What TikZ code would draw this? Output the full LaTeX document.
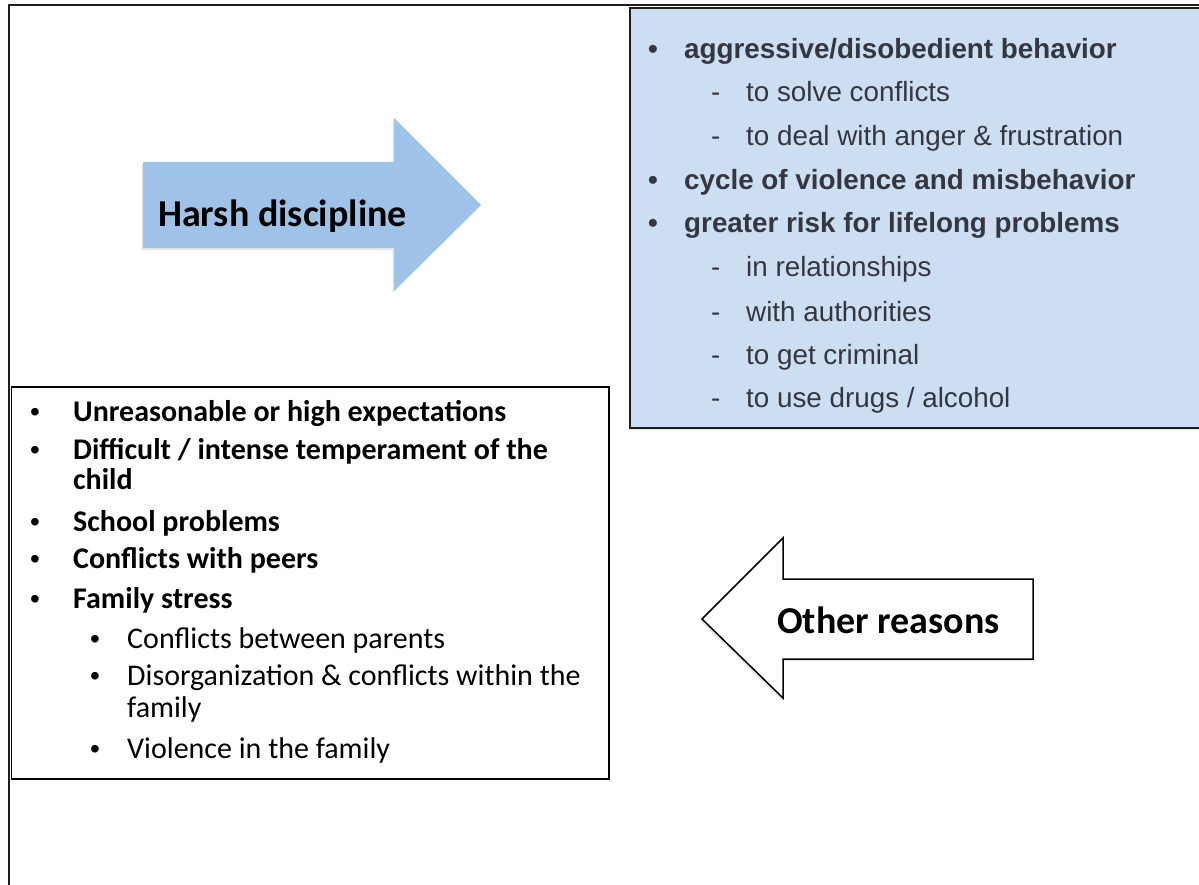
\documentclass[tikz,border=0pt]{standalone}
\usepackage{fontspec}
\setmainfont{Carlito}
\newfontfamily\arialfont{Liberation Sans}
\usepackage{xcolor}
\usetikzlibrary{shadows}
\definecolor{harshblue}{RGB}{158,194,232}
\definecolor{effectblue}{RGB}{205,222,242}
\definecolor{effecttext}{RGB}{52,54,66}
\definecolor{framegray}{RGB}{30,30,30}

\begin{document}
\begin{tikzpicture}[x=1pt,y=-1pt,
  bigtext/.style={anchor=base west,inner sep=0pt,font=\fontsize{38}{44}\selectfont\bfseries},
  causebold/.style={anchor=base west,inner sep=0pt,font=\fontsize{30}{30}\selectfont\bfseries},
  causeplain/.style={anchor=base west,inner sep=0pt,font=\fontsize{30}{30}\selectfont},
  causedot/.style={anchor=base west,inner sep=0pt,font=\arialfont\fontsize{28}{30}\selectfont},
  effectbold/.style={anchor=base west,inner sep=0pt,text=effecttext,font=\arialfont\fontsize{27.8}{32}\selectfont\bfseries},
  effectplain/.style={anchor=base west,inner sep=0pt,text=effecttext,font=\arialfont\fontsize{27.8}{32}\selectfont},
  softshadow/.style={drop shadow={shadow xshift=-1.5pt,shadow yshift=-2pt,opacity=0.2}}]
\useasboundingbox (0,0) rectangle (1199,885);
\clip (0,0) rectangle (1199,885);
\fill[white] (0,0) rectangle (1199,885);

% frame and boxes
\draw[framegray,line width=2pt] (8.5,890) |- (1210,5);
\filldraw[fill=effectblue,draw=framegray,line width=1.5pt,softshadow] (630,8) rectangle (1210,428);
\draw[black,line width=1.5pt] (11.5,387) rectangle (609,779);

% arrows
\fill[harshblue,softshadow] (143,162) -- (394,162) -- (394,118) -- (481,205)
  -- (394,291) -- (394,248) -- (143,248) -- cycle;
\filldraw[fill=white,draw=black,line width=1.5pt,softshadow] (1033,579) -- (783,579) -- (783,538)
  -- (702,619) -- (783,698) -- (783,659) -- (1033,659) -- cycle;
\node[bigtext] (harsh) at (158,227) {Harsh discipline};
\node[bigtext] (other) at (777,633) {Other reasons};

% effects
\foreach \y [count=\i] in {59,190,233}
  \node[effectbold] (ebul\i) at (648,\y) {\textbullet};
\foreach \y [count=\i] in {102,146,277,321,364,407}
  \node[effectplain] (edash\i) at (711,\y) {-};
\node[effectbold] (aggr) at (684,59) {aggressive/disobedient behavior};
\node[effectplain] (solve) at (746,102) {to solve conflicts};
\node[effectplain] (anger) at (746,146) {to deal with anger \& frustration};
\node[effectbold] (cycle) at (684,190) {cycle of violence and misbehavior};
\node[effectbold] (risk) at (684,233) {greater risk for lifelong problems};
\node[effectplain] (relat) at (746,277) {in relationships};
\node[effectplain] (auth) at (746,321) {with authorities};
\node[effectplain] (crim) at (746,364) {to get criminal};
\node[effectplain] (drugs) at (746,407) {to use drugs / alcohol};

% causes
\foreach \y [count=\i] in {421,459,531,568,608}
  \node[causedot] (cbul\i) at (30,\y) {\textbullet};
\foreach \y [count=\i] in {648,685,758}
  \node[causedot] (csub\i) at (90,\y) {\textbullet};
\node[causebold] (expect) at (73,421) {Unreasonable or high expectations};
\node[causebold] (temper) at (73,459) {Difficult / intense temperament of the};
\node[causebold] (child) at (73,489) {child};
\node[causebold] (school) at (73,531) {School problems};
\node[causebold] (peers) at (73,568) {Conflicts with peers};
\node[causebold] (stress) at (73,608) {Family stress};
\node[causeplain] (parents) at (127,648) {Conflicts between parents};
\node[causeplain] (disorg) at (127,685) {Disorganization \& conflicts within the};
\node[causeplain] (fam) at (127,717) {family};
\node[causeplain] (viol) at (127,758) {Violence in the family};
\end{tikzpicture}
\end{document}
